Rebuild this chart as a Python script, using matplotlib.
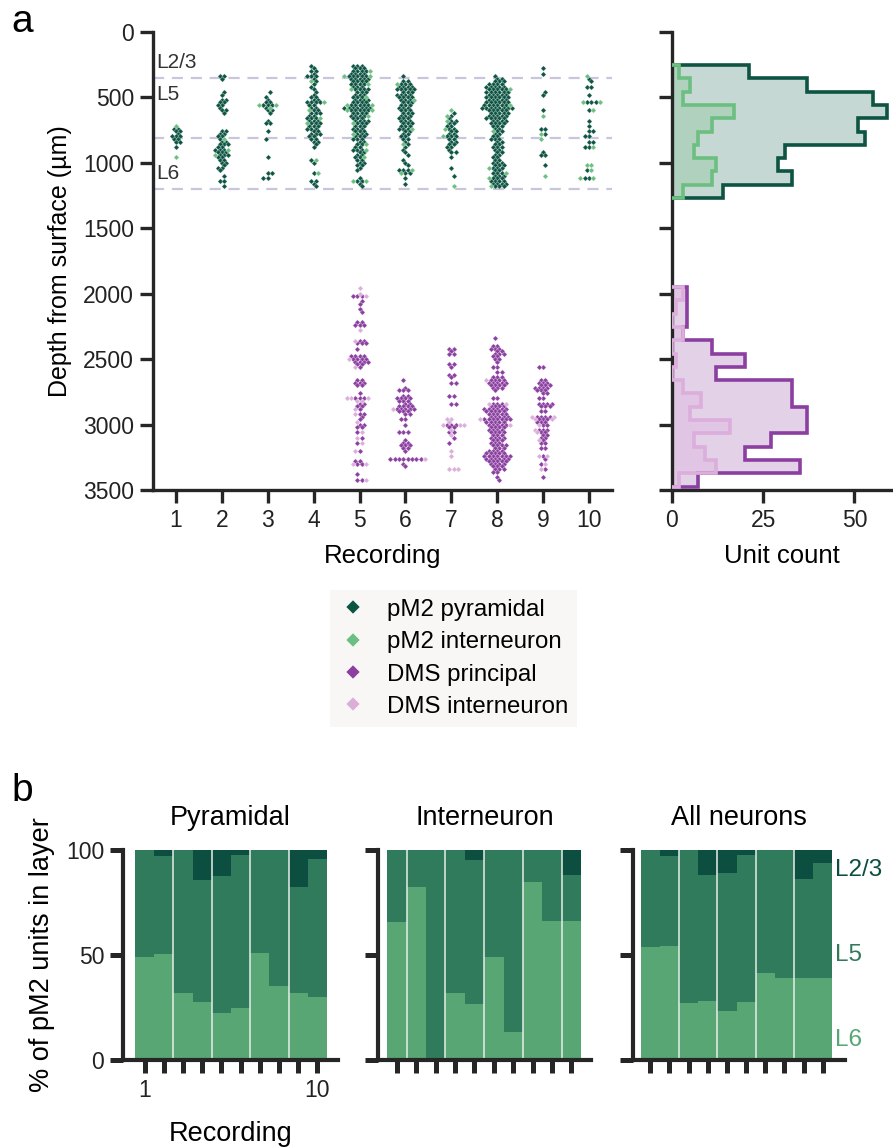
import numpy as np
import matplotlib
matplotlib.use("Agg")
import matplotlib.pyplot as plt
from matplotlib.lines import Line2D

plt.rcParams['font.family'] = ['Liberation Sans', 'DejaVu Sans']

# ---------------- data ----------------
recordings = list(range(1, 11))

# swarm rows: (depth in um, number of units at that depth)
pyr_r1 = [(740,2),(760,2),(780,1),(800,3),(820,2),(840,2),(880,1)]
pyr_r2 = [(340,2),(360,1),(460,1),(480,1),(520,2),(540,2),(560,2),(580,1),(600,2),(620,1),(760,2),(780,2),(800,2),(820,1),(840,2),(860,3),(880,2),(900,3),(920,3),(940,3),(960,2),(980,2),(1000,2),(1020,1),(1040,2),(1060,1),(1100,1),(1140,2),(1180,1)]
pyr_r3 = [(460,1),(500,1),(520,1),(540,2),(560,3),(580,1),(600,2),(620,1),(680,1),(700,2),(760,1),(820,1),(960,1),(1080,2),(1120,2)]
pyr_r4 = [(260,1),(280,1),(300,2),(320,1),(340,3),(360,1),(380,1),(400,1),(420,1),(440,1),(460,1),(480,1),(500,2),(520,2),(540,4),(560,2),(580,2),(600,2),(620,3),(640,2),(660,3),(680,3),(700,3),(720,3),(740,3),(760,2),(780,3),(800,2),(820,2),(840,2),(860,1),(880,1),(980,1),(1000,1),(1080,1),(1140,2),(1160,1),(1180,1)]
pyr_r5 = [(260,3),(280,3),(300,4),(320,4),(340,5),(360,5),(380,4),(400,4),(420,3),(440,4),(460,3),(480,3),(500,3),(520,4),(540,4),(560,5),(580,7),(600,5),(620,4),(640,4),(660,3),(680,4),(700,3),(720,3),(740,3),(760,3),(780,3),(800,3),(820,3),(840,2),(860,2),(880,2),(900,3),(920,2),(940,2),(960,2),(980,2),(1000,2),(1020,2),(1040,1),(1060,1),(1120,1),(1140,2),(1160,1),(1180,1)]
pyr_r6 = [(340,1),(380,2),(400,3),(420,4),(440,5),(460,3),(480,4),(500,4),(520,3),(540,3),(560,3),(580,3),(600,3),(620,3),(640,3),(660,3),(680,3),(700,3),(720,3),(740,3),(760,2),(780,2),(800,2),(820,2),(840,1),(860,1),(880,1),(900,1),(920,1),(940,1),(980,1),(1000,1),(1020,1),(1060,3),(1080,2),(1120,1),(1160,1)]
pyr_r7 = [(620,1),(640,1),(660,1),(680,2),(700,2),(720,2),(740,2),(760,2),(780,2),(800,3),(820,2),(840,2),(860,2),(880,2),(900,1),(920,2),(960,1),(1040,1),(1100,1)]
pyr_r8 = [(340,1),(360,2),(380,3),(400,4),(420,5),(440,5),(460,6),(480,5),(500,6),(520,5),(540,6),(560,6),(580,8),(600,5),(620,5),(640,5),(660,5),(680,4),(700,4),(720,3),(740,2),(760,2),(780,2),(800,2),(820,3),(840,2),(860,2),(880,3),(900,2),(920,2),(940,2),(960,2),(980,2),(1000,3),(1020,3),(1040,3),(1060,2),(1080,3),(1100,3),(1120,3),(1140,4),(1160,4),(1180,3)]
pyr_r9 = [(280,1),(320,1),(460,1),(480,1),(600,1),(740,2),(780,1),(920,1),(940,2),(1020,1)]
pyr_r10 = [(360,1),(380,1),(420,2),(480,1),(540,3),(600,1),(680,1),(720,1),(760,2),(800,2),(840,2),(880,2),(1060,1),(1120,2)]

int_r1 = [(720,1),(960,1)]
int_r2 = [(820,1),(900,1),(940,1)]
int_r3 = [(560,2),(580,1)]
int_r4 = [(380,1),(540,1),(600,1),(660,1),(700,1),(980,1),(1080,1)]
int_r5 = [(300,1),(340,2),(400,1),(440,1),(500,1),(560,2),(600,2),(640,1),(700,1),(780,1),(860,1),(900,1),(960,1),(1140,2)]
int_r6 = [(400,1),(520,1),(740,1),(860,1),(1060,1),(1080,1)]
int_r7 = [(600,1),(640,1),(680,1),(740,1),(800,1),(1180,1)]
int_r8 = [(440,1),(560,1),(760,1),(1040,1),(1080,1),(1120,1),(1180,1)]
int_r9 = [(640,1),(780,1),(820,1),(1100,1)]
int_r10 = [(340,1),(540,2),(600,1),(880,1),(1020,2),(1060,1),(1120,2)]

dpri_r5 = [(2020,3),(2060,1),(2080,1),(2120,1),(2140,1),(2220,2),(2240,3),(2360,2),(2380,3),(2420,1),(2480,4),(2500,4),(2520,4),(2540,2),(2560,1),(2660,2),(2680,3),(2700,2),(2760,1),(2800,3),(2840,2),(2860,2),(2880,1),(2920,2),(2940,1),(2960,1),(3000,2),(3020,2),(3060,1),(3100,1),(3140,1),(3200,1),(3280,2),(3300,2),(3380,1),(3420,2)]
dpri_r6 = [(2660,1),(2720,1),(2740,3),(2780,2),(2800,4),(2820,3),(2840,2),(2860,4),(2880,5),(2900,3),(2920,2),(2960,2),(3000,1),(3060,3),(3120,1),(3140,2),(3160,3),(3180,2),(3200,1),(3260,8),(3300,1),(3320,1)]
dpri_r7 = [(2420,2),(2440,1),(2460,2),(2540,2),(2560,1),(2620,2),(2640,1),(2680,2),(2780,2),(2840,2),(3000,3),(3020,2),(3060,2),(3100,1),(3140,1)]
dpri_r8 = [(2340,1),(2400,2),(2420,3),(2440,2),(2460,3),(2480,2),(2500,2),(2520,1),(2560,2),(2600,2),(2640,3),(2660,4),(2680,5),(2700,4),(2720,3),(2740,1),(2800,2),(2840,3),(2860,4),(2880,6),(2900,5),(2920,5),(2940,5),(2960,7),(2980,5),(3000,5),(3020,4),(3040,4),(3060,4),(3080,3),(3100,4),(3120,3),(3140,3),(3160,4),(3180,3),(3200,4),(3220,5),(3240,7),(3260,6),(3280,5),(3300,4),(3320,3),(3340,3),(3360,2),(3400,1),(3420,1)]
dpri_r9 = [(2560,2),(2660,2),(2680,3),(2700,3),(2720,4),(2740,3),(2760,2),(2800,2),(2840,4),(2860,3),(2900,2),(2940,4),(2960,3),(2980,3),(3000,2),(3040,3),(3060,2),(3080,2),(3100,2),(3120,1),(3140,2),(3180,2),(3240,1),(3260,1),(3300,1),(3340,1),(3400,1)]

dint_r5 = [(1960,1),(2000,1),(2020,1),(2280,1),(2360,1),(2500,1),(2560,1),(2800,3),(2820,2),(2880,1),(2920,1),(2980,1),(3060,1),(3100,1),(3140,1),(3200,1),(3300,2),(3420,1)]
dint_r6 = [(2880,1),(3260,1)]
dint_r7 = [(2960,2),(2980,1),(3000,3),(3040,1),(3080,1),(3200,1),(3240,1),(3340,3)]
dint_r8 = [(2660,1),(2840,2),(2960,1),(3000,1)]
dint_r9 = [(2940,2),(2960,2),(3000,1),(3040,1),(3060,1),(3120,1),(3240,2),(3300,1),(3340,1)]

pyr_rows = [pyr_r1, pyr_r2, pyr_r3, pyr_r4, pyr_r5, pyr_r6, pyr_r7, pyr_r8, pyr_r9, pyr_r10]
int_rows = [int_r1, int_r2, int_r3, int_r4, int_r5, int_r6, int_r7, int_r8, int_r9, int_r10]
dpri_rows = [[], [], [], [], dpri_r5, dpri_r6, dpri_r7, dpri_r8, dpri_r9, []]
dint_rows = [[], [], [], [], dint_r5, dint_r6, dint_r7, dint_r8, dint_r9, []]

# histograms (unit counts per depth bin)
pm2_edges = [255, 357, 458, 560, 661, 763, 864, 966, 1067, 1169, 1270]
pm2_pyr_counts = [21, 37, 55, 59, 51, 53, 31, 29, 33, 14]
pm2_int_counts = [2, 5, 3, 17, 11, 7, 6, 12, 11, 3]
dms_edges = [1950, 2052, 2153, 2255, 2357, 2458, 2560, 2662, 2763, 2865, 2967, 3068, 3170, 3272, 3373, 3475]
dms_pri_counts = [4, 4, 4, 3, 11, 20, 12, 33, 33, 37, 37, 27, 20, 35, 7]
dms_int_counts = [3, 1, 0, 3, 0, 1, 0, 3, 8, 5, 16, 6, 9, 12, 2]

layer_bounds = [350, 815, 1200]
layer_names = ['L2/3', 'L5', 'L6']
layer_label_depths = [236, 483, 1081]

# panel b: % of pM2 units per layer (L6 bottom, L2/3 top)
pyr_L6 = [49, 50.5, 32, 27.6, 22.2, 25, 51, 35.4, 32, 29.8]
pyr_L23 = [0, 2.9, 0, 14.3, 12.4, 2.4, 0, 0, 17.5, 4.4]
int_L6 = [65.9, 82.2, 0, 32, 26.5, 49.2, 13.2, 85, 66.2, 66.2]
int_L23 = [0, 0, 0, 0, 4.8, 0, 0, 0, 0, 11.9]
all_L6 = [53.7, 54.3, 27.1, 28.3, 23.3, 27.6, 41.6, 39.2, 39.2, 39.2]
all_L23 = [0, 2.9, 0, 11.9, 11.1, 2.4, 0, 0, 13.8, 6]

# ---------------- style ----------------
C_PYR = '#0e5443'
C_INT = '#6cbf80'
C_DPRI = '#8b3fa0'
C_DINT = '#dcaedb'
C_L6 = '#58a673'
C_L5 = '#2f7b5b'
C_L23 = '#0c4f40'
SPINE = '#262626'
FS_TICK = 16.5
FS_LAB = 18.5

W, H = 893, 1147
fig = plt.figure(figsize=(W/100, H/100), dpi=100)

def fx(px):
    return px / W

def fy(py):
    return 1 - py / H

def style_axes(ax, lw=2.4, tl=9.5, tw=2.4):
    for s in ['top', 'right']:
        ax.spines[s].set_visible(False)
    for s in ['left', 'bottom']:
        ax.spines[s].set_linewidth(lw)
        ax.spines[s].set_color(SPINE)
    ax.tick_params(direction='out', length=tl, width=tw, color=SPINE,
                   labelsize=FS_TICK, labelcolor='#222222', pad=4)

# ---------------- panel a: swarm ----------------
ax = fig.add_axes([fx(153), fy(490), fx(612 - 153), (490 - 31.7) / H])
style_axes(ax)

dx = 0.094   # horizontal spacing of units within a depth row (recording units)

def layout(rec, rows_a, rows_b):
    """Place units of each depth row side by side; alternate rows half-offset."""
    out_a, out_b = [], []
    depths = sorted(set([d for d, _ in rows_a] + [d for d, _ in rows_b]))
    da = dict(rows_a)
    db = dict(rows_b)
    for d in depths:
        na, nb = da.get(d, 0), db.get(d, 0)
        n = na + nb
        shift = 0.5 if (d // 20) % 2 else 0.0
        cands = sorted([(k + shift) * dx for k in range(-8, 9)],
                       key=lambda o: (round(abs(o), 6), -o if (d // 40) % 2 else o))
        offs = cands[:n]
        for j, o in enumerate(offs):
            if j < na:
                out_a.append((rec + o, d))
            else:
                out_b.append((rec + o, d))
    return out_a, out_b

pts = {'pyr': [], 'int': [], 'dpri': [], 'dint': []}
for i, rec in enumerate(recordings):
    a, b = layout(rec, pyr_rows[i], int_rows[i])
    pts['pyr'] += a
    pts['int'] += b
    a, b = layout(rec, dpri_rows[i], dint_rows[i])
    pts['dpri'] += a
    pts['dint'] += b

for key, col in [('pyr', C_PYR), ('int', C_INT), ('dpri', C_DPRI), ('dint', C_DINT)]:
    arr = np.array(pts[key])
    ax.scatter(arr[:, 0], arr[:, 1], marker='D', s=7.5, color=col,
               edgecolors='white', linewidths=0.2, zorder=3)

for b in layer_bounds:
    ax.axhline(b, color='#c9c5dd', lw=1.6, dashes=(5, 3.5), zorder=1)
for name, d in zip(layer_names, layer_label_depths):
    ax.text(0.56, d, name, fontsize=15, color='#333333', va='center', ha='left')

ax.set_xlim(0.5, 10.5)
ax.set_ylim(3500, 0)
ax.set_yticks(range(0, 3501, 500))
ax.set_xticks(recordings)
ax.set_xticklabels([str(r) for r in recordings])
ax.set_xlabel('Recording', fontsize=FS_LAB, labelpad=9)
ax.set_ylabel('Depth from surface (µm)', fontsize=18, labelpad=8)

# ---------------- panel a: histogram ----------------
axh = fig.add_axes([fx(672), fy(490), fx(891 - 672), (490 - 31.7) / H])
style_axes(axh)
axh.stairs(pm2_pyr_counts, pm2_edges, orientation='horizontal', baseline=0,
           fill=True, color='#c6d8d4', zorder=1)
axh.stairs(pm2_int_counts, pm2_edges, orientation='horizontal', baseline=0,
           fill=True, color=C_INT, alpha=0.25, zorder=2)
axh.stairs(pm2_pyr_counts, pm2_edges, orientation='horizontal', baseline=0,
           fill=False, color=C_PYR, lw=2.6, zorder=3)
axh.stairs(pm2_int_counts, pm2_edges, orientation='horizontal', baseline=0,
           fill=False, color=C_INT, lw=2.6, zorder=4)
axh.stairs(dms_pri_counts, dms_edges, orientation='horizontal', baseline=0,
           fill=True, color='#e3d1e8', zorder=1)
axh.stairs(dms_int_counts, dms_edges, orientation='horizontal', baseline=0,
           fill=True, color=C_DINT, alpha=0.3, zorder=2)
axh.stairs(dms_pri_counts, dms_edges, orientation='horizontal', baseline=0,
           fill=False, color=C_DPRI, lw=2.6, zorder=3)
axh.stairs(dms_int_counts, dms_edges, orientation='horizontal', baseline=0,
           fill=False, color=C_DINT, lw=2.6, zorder=4)
axh.set_ylim(3500, 0)
axh.set_xlim(0, 60)
axh.set_yticks(range(0, 3501, 500))
axh.set_yticklabels([])
axh.set_xticks([0, 25, 50])
axh.set_xlabel('Unit count', fontsize=FS_LAB, labelpad=9)

# legend
handles = [Line2D([], [], marker='D', ls='none', color=c, markersize=7.5,
                  markeredgecolor='white', markeredgewidth=0.3)
           for c in [C_PYR, C_INT, C_DPRI, C_DINT]]
labels = ['pM2 pyramidal', 'pM2 interneuron', 'DMS principal', 'DMS interneuron']
leg = fig.legend(handles, labels, loc='upper left', bbox_to_anchor=(fx(330), fy(590)),
                 frameon=True, fontsize=17.3, handletextpad=0.8, labelspacing=0.43,
                 borderpad=0.37, borderaxespad=0, handlelength=1.2)
leg.get_frame().set_facecolor('#f7f6f4')
leg.get_frame().set_edgecolor('none')
leg.get_frame().set_boxstyle('square', pad=0)

# ---------------- panel b ----------------
x = np.array(recordings)

def stacked(ax, l6, l23, seps):
    l6 = np.array(l6, float)
    l23 = np.array(l23, float)
    l5 = 100 - l6 - l23
    ax.bar(x, l6, width=1.0, color=C_L6, linewidth=0)
    ax.bar(x, l5, bottom=l6, width=1.0, color=C_L5, linewidth=0)
    ax.bar(x, l23, bottom=l6 + l5, width=1.0, color=C_L23, linewidth=0)
    ax.vlines(seps, 0, 100, color='#e6efe9', lw=1.1)
    ax.set_ylim(0, 100)
    ax.set_yticks([0, 50, 100])
    ax.set_xticks(recordings)
    style_axes(ax, lw=3, tl=9.5, tw=3.6)

bot = fy(1060)
hgt = 210 / H
ax1 = fig.add_axes([fx(123), bot, fx(215), hgt])
stacked(ax1, pyr_L6, pyr_L23, [2.5, 4.5, 6.5, 8.5])
ax1.set_xlim(0.5 - 12 / 19.2, 0.5 + 215 / 19.2 - 12 / 19.2)
ax1.set_xticklabels(['1', '', '', '', '', '', '', '', '', '10'])
ax1.set_xlabel('Recording', fontsize=19.5, labelpad=14)
ax1.set_ylabel('% of pM2 units in layer', fontsize=19.5, labelpad=8)
ax1.set_title('Pyramidal', fontsize=19.5, pad=18)

ax2 = fig.add_axes([fx(378), bot, fx(213), hgt])
stacked(ax2, int_L6, int_L23, [1.5, 3.5, 5.5, 7.5, 9.5])
ax2.set_xlim(0.5 - 9.3 / 19.37, 0.5 + 213 / 19.37 - 9.3 / 19.37)
ax2.set_xticklabels([])
ax2.set_yticklabels([])
ax2.set_title('Interneuron', fontsize=19.5, pad=18)

ax3 = fig.add_axes([fx(633), bot, fx(212), hgt])
stacked(ax3, all_L6, all_L23, [2.5, 4.5, 6.5, 8.5])
ax3.set_xlim(0.5 - 7.7 / 19.17, 0.5 + 212 / 19.17 - 7.7 / 19.17)
ax3.set_xticklabels([])
ax3.set_yticklabels([])
ax3.set_title('All neurons', fontsize=19.5, pad=18)

for name, col, py in [('L2/3', C_L23, 870), ('L5', C_L5, 955), ('L6', C_L6, 1040)]:
    fig.text(fx(835), fy(py), name, color=col, fontsize=17.5, va='center', ha='left')

fig.text(fx(11), fy(32), 'a', fontsize=28, va='baseline', ha='left')
fig.text(fx(11), fy(801), 'b', fontsize=28, va='baseline', ha='left')

fig.savefig('out.png', dpi=100)
